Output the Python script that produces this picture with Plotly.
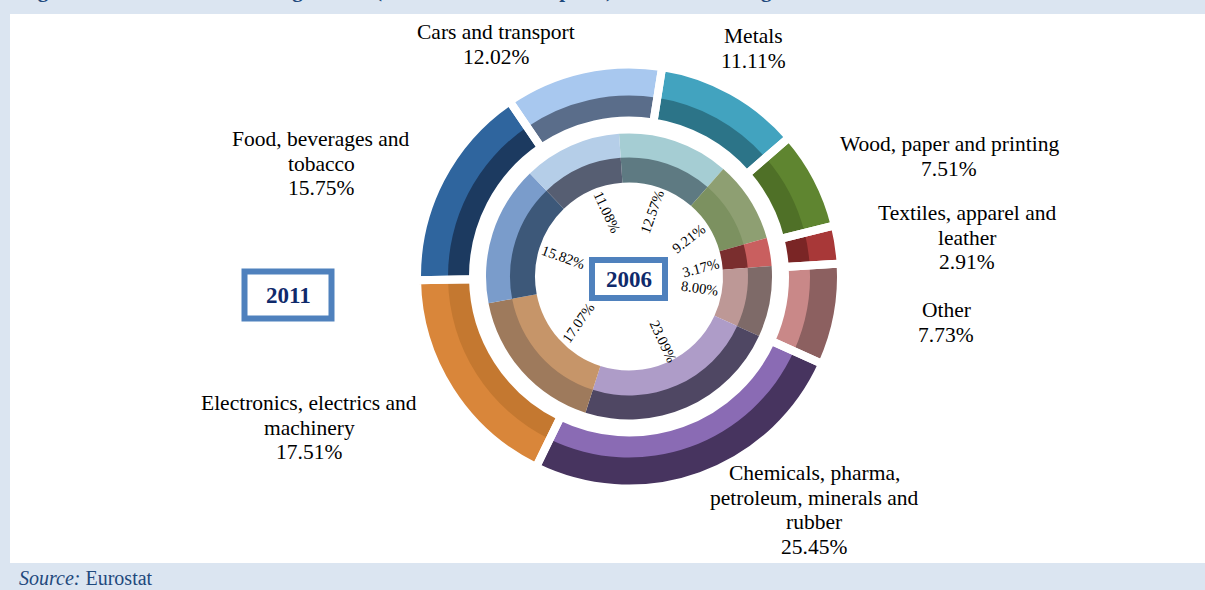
import plotly.graph_objects as go

W, H = 1205, 590

categories = ["Metals", "Wood, paper and printing", "Textiles, apparel and leather", "Other",
              "Chemicals, pharma, petroleum, minerals and rubber",
              "Electronics, electrics and machinery", "Food, beverages and tobacco", "Cars and transport"]
values_2011 = [11.11, 7.51, 2.91, 7.73, 25.45, 17.51, 15.75, 12.02]
values_2006 = [12.57, 9.21, 3.17, 8.00, 23.09, 17.07, 15.82, 11.08]

outer_rim_2011 = ["#42A3BF", "#5F8530", "#A83838", "#8C6060", "#47345F", "#D9863A", "#2F659E", "#A8C8EF"]
outer_core_2011 = ["#2C7488", "#4F7027", "#7A2525", "#C98888", "#8A6BB4", "#C47830", "#1C3A60", "#5A6D8A"]
outer_rim_2006 = ["#A5CDD3", "#8E9F72", "#C95F5F", "#7E6A68", "#4F4763", "#9E7A5C", "#7A9CCB", "#B5CEE8"]
outer_core_2006 = ["#5E7A82", "#7C9160", "#7A2E2E", "#BD9896", "#AE9CC8", "#C69569", "#3D5879", "#565E72"]

BG = "#DBE5F1"
NAVY = "#0F2A6B"
BOX = "#4F81BD"
TITLE = "#1F497D"
SERIF = "Liberation Serif"
CX, CY = 629, 276.5
LINE = 24.7


def fx(x):
    return x / W


def fy(y):
    return 1 - y / H


def ring(values, colors, r_out, r_in, cx, cy, rotation, line=None):
    marker = dict(colors=colors, line=dict(width=0))
    if line:
        marker["line"] = dict(color="white", width=line)
    return go.Pie(values=values, labels=categories, sort=False, direction="clockwise", rotation=rotation,
                  hole=r_in / r_out, marker=marker, textinfo="none", showlegend=False, hoverinfo="label+value",
                  domain=dict(x=[fx(cx - r_out), fx(cx + r_out)], y=[fy(cy + r_out), fy(cy - r_out)]))


clear = ["rgba(0,0,0,0)"] * len(categories)
fig = go.Figure()
# 2011 outer ring
fig.add_trace(ring(values_2011, outer_rim_2011, 212, 180, CX, CY, 9))
fig.add_trace(ring(values_2011, outer_core_2011, 181, 156, CX, CY, 9))
fig.add_trace(ring(values_2011, clear, 212, 156, CX, CY, 9, line=8))
# 2006 inner ring
fig.add_trace(ring(values_2006, outer_rim_2006, 143, 118, CX, CY, 356))
fig.add_trace(ring(values_2006, outer_core_2006, 119, 94, CX, CY, 356))

shapes = [
    dict(type="rect", xref="paper", yref="paper", x0=fx(10), x1=1, y0=fy(563), y1=fy(14),
         fillcolor="white", line=dict(width=0), layer="below"),
    dict(type="rect", xref="paper", yref="paper", x0=fx(244.5), x1=fx(331.5), y0=fy(318.5), y1=fy(271.5),
         fillcolor="white", line=dict(color=BOX, width=6)),
    dict(type="rect", xref="paper", yref="paper", x0=fx(592), x1=fx(665), y0=fy(298), y1=fy(260),
         fillcolor="white", line=dict(color=BOX, width=6)),
]


def txt(x, y, s, size=21.5, color="black", angle=0, anchor="center"):
    return dict(x=fx(x), y=fy(y), xref="paper", yref="paper", text=s, showarrow=False, textangle=angle,
                font=dict(family=SERIF, size=size, color=color), xanchor=anchor, yanchor="middle", align="center")


def lab(x, y, i, wrapped):
    lines = wrapped + [f"{values_2011[i]:.2f}%"]
    return [txt(x, y + k * LINE, t) for k, t in enumerate(lines)]


annotations = (
    lab(753, 36, 0, ["Metals"])
    + lab(949, 144, 1, ["Wood, paper and printing"])
    + lab(967, 213, 2, ["Textiles, apparel and", "leather"])
    + lab(946, 310, 3, ["Other"])
    + lab(814, 473, 4, ["Chemicals, pharma,", "petroleum, minerals and", "rubber"])
    + lab(309, 403, 5, ["Electronics, electrics and", "machinery"])
    + lab(321, 139, 6, ["Food, beverages and", "tobacco"])
    + lab(496, 32, 7, ["Cars and transport"])
    + [
        txt(652, 212, f"{values_2006[0]:.2f}%", size=14.5, angle=-70),
        txt(688, 239, f"{values_2006[1]:.2f}%", size=14.5, angle=-38),
        txt(700, 268, f"{values_2006[2]:.2f}%", size=14.5, angle=-15),
        txt(699, 288, f"{values_2006[3]:.2f}%", size=14.5, angle=8),
        txt(663, 341, f"{values_2006[4]:.2f}%", size=14.5, angle=65),
        txt(578, 323, f"{values_2006[5]:.2f}%", size=14.5, angle=-55),
        txt(563, 257, f"{values_2006[6]:.2f}%", size=14.5, angle=20),
        txt(607, 212, f"{values_2006[7]:.2f}%", size=14.5, angle=65),
        txt(288, 295, "<b>2011</b>", size=23, color=NAVY),
        txt(628.5, 279, "<b>2006</b>", size=23, color=NAVY),
        txt(17, 578, "<i>Source:</i> Eurostat", size=20, color=TITLE, anchor="left"),
        txt(17, -10, "<b>Figure 6: EU-27 manufacturing sectors (% of total EU-27 exports) of the main categories</b>",
            size=21, color=TITLE, anchor="left"),
    ]
)

fig.update_layout(width=W, height=H, margin=dict(l=0, r=0, t=0, b=0), paper_bgcolor=BG, plot_bgcolor=BG,
                  shapes=shapes, annotations=annotations, showlegend=False)
fig.write_html("out.html", config=dict(displayModeBar=False),
               post_script="document.body.style.margin='0';document.body.style.overflow='hidden';")
